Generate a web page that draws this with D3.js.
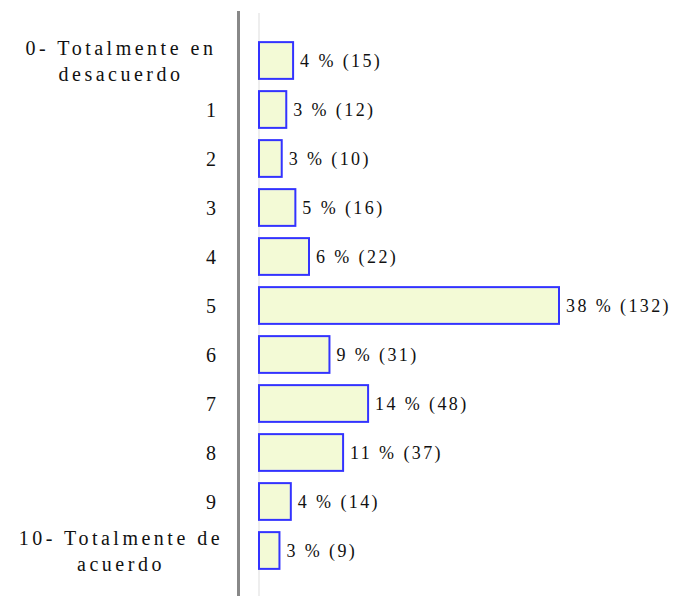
<!DOCTYPE html>
<html>
<head>
<meta charset="utf-8">
<script src="https://cdn.jsdelivr.net/npm/d3@7"></script>
<style>
  body { margin: 0; background: #fff; }
</style>
</head>
<body>
<div id="chart"></div>
<script>
// answer options, top to bottom
const categories = ["0", "1", "2", "3", "4", "5", "6", "7", "8", "9", "10"];
const labelLines = [
  ["0- Totalmente en", "desacuerdo"],
  ["1"], ["2"], ["3"], ["4"], ["5"], ["6"], ["7"], ["8"], ["9"],
  ["10- Totalmente de", "acuerdo"]
];
const counts = [15, 12, 10, 16, 22, 132, 31, 48, 37, 14, 9];
const percents = [4, 3, 3, 5, 6, 38, 9, 14, 11, 4, 3];

const width = 691, height = 596;
const font = "Liberation Serif";

const svg = d3.select("#chart").append("svg")
  .attr("width", width)
  .attr("height", height);

const x = d3.scaleLinear().domain([0, 132]).range([259, 559]);
const y = d3.scaleBand().domain(categories).range([36, 575])
  .paddingInner(0.25).paddingOuter(0.125);

// axis lines
svg.append("line")
  .attr("x1", 238.5).attr("x2", 238.5).attr("y1", 11).attr("y2", height)
  .attr("stroke", "#888").attr("stroke-width", 3);
svg.append("line")
  .attr("x1", 259).attr("x2", 259).attr("y1", 13).attr("y2", height)
  .attr("stroke", "#eee").attr("stroke-width", 2);

const rows = svg.selectAll(".row")
  .data(categories)
  .enter().append("g")
  .attr("class", "row");

rows.append("rect")
  .attr("x", x(0))
  .attr("y", d => y(d))
  .attr("width", (d, i) => x(counts[i]) - x(0))
  .attr("height", y.bandwidth())
  .attr("fill", "#f3fad6")
  .attr("stroke", "#3333ff")
  .attr("stroke-width", 2);

rows.append("text")
  .attr("x", (d, i) => x(counts[i]) + 7)
  .attr("y", d => y(d) + y.bandwidth() / 2)
  .attr("dy", "0.35em")
  .attr("font-family", font)
  .attr("font-size", 18)
  .attr("fill", "#111")
  .attr("letter-spacing", 2.4)
  .text((d, i) => percents[i] + " % (" + counts[i] + ")");

// category labels
rows.each(function(d, i) {
  const lines = labelLines[i];
  const cy = y(d) + y.bandwidth() / 2;
  const g = d3.select(this);
  if (lines.length === 1) {
    g.append("text")
      .attr("x", 216)
      .attr("y", cy)
      .attr("dy", "0.35em")
      .attr("font-family", font)
      .attr("font-size", 20)
      .attr("fill", "#111")
      .attr("text-anchor", "end")
      .text(lines[0]);
  } else {
    lines.forEach((t, j) => {
      g.append("text")
        .attr("x", 121)
        .attr("y", cy + (j - 0.5) * 26)
        .attr("dy", "0.35em")
        .attr("font-family", font)
        .attr("font-size", 20)
        .attr("fill", "#111")
        .attr("text-anchor", "middle")
        .attr("letter-spacing", 3.5)
        .text(t);
    });
  }
});
</script>
</body>
</html>
